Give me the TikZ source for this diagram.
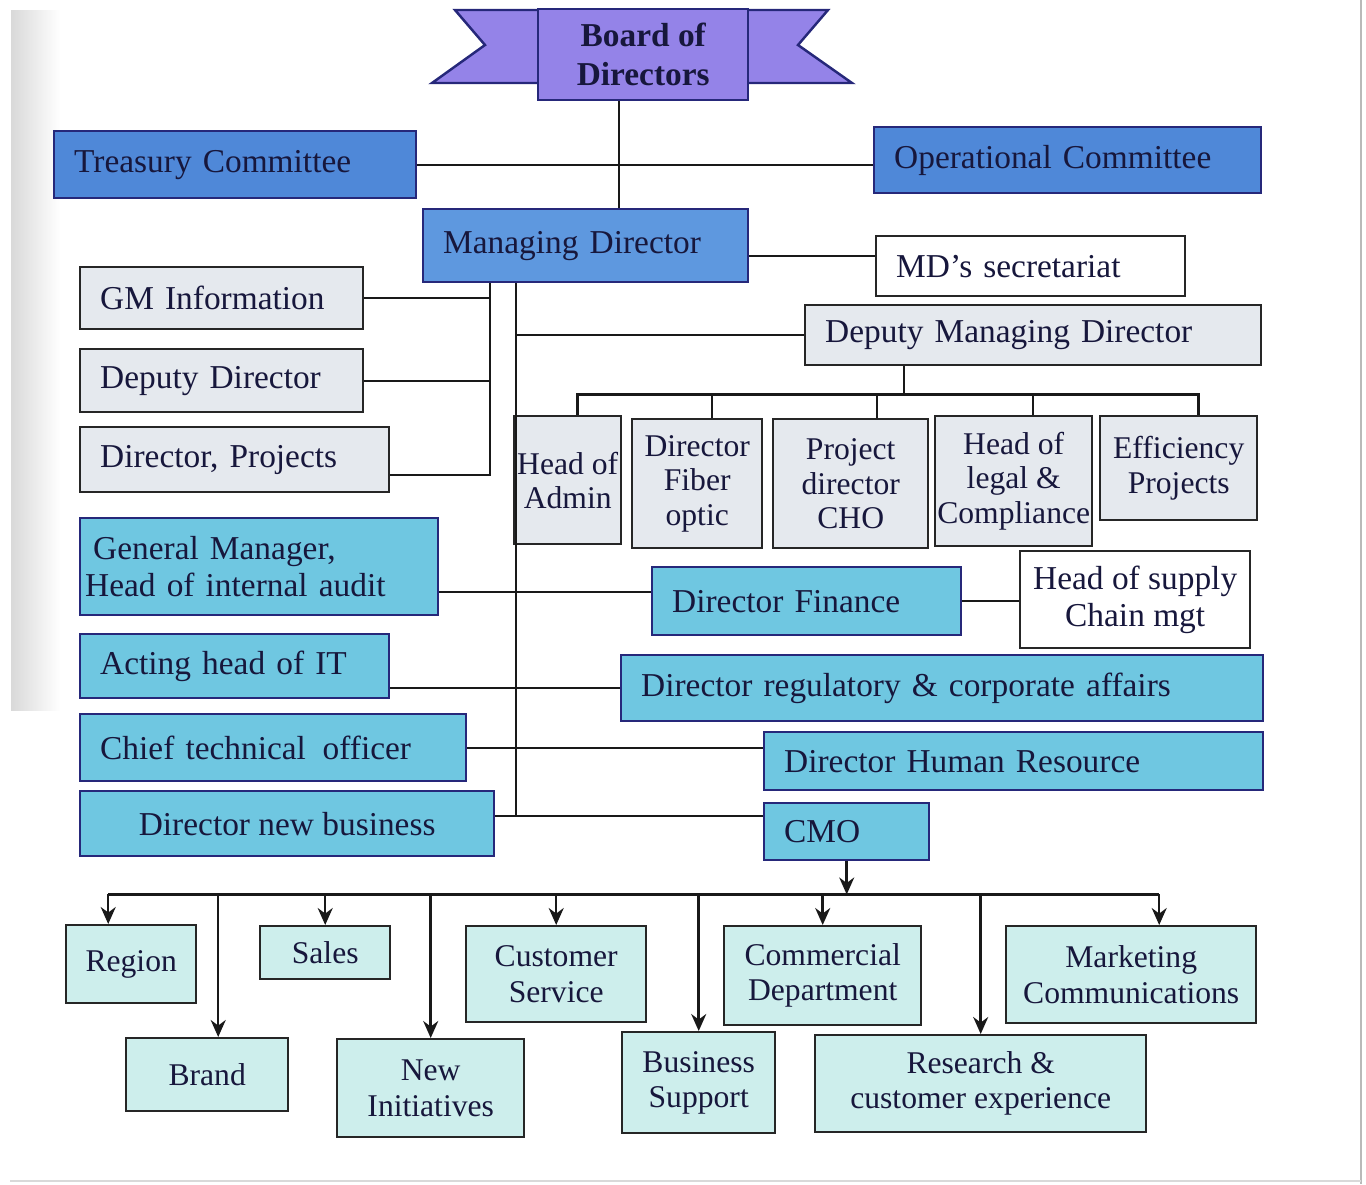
\documentclass[tikz,border=0pt]{standalone}
\usepackage{fontspec}
\setmainfont{Liberation Serif}
\usepackage{xcolor}
\usepackage{tikz}
\usetikzlibrary{arrows.meta}
\definecolor{orgPurple}{HTML}{9483E8}
\definecolor{orgNavy}{HTML}{26287A}
\definecolor{orgBlue}{HTML}{4F88D8}
\definecolor{orgMid}{HTML}{5E98DF}
\definecolor{orgCyan}{HTML}{6FC7E1}
\definecolor{orgGray}{HTML}{E5E9EE}
\definecolor{orgTeal}{HTML}{CDEEEC}
\definecolor{orgInk}{HTML}{17173C}

\begin{document}
\begin{tikzpicture}[
  x=0.02cm, y=-0.02cm,
  every node/.style={font=\fontsize{19}{21}\selectfont, text=orgInk},
  unit/.style={draw=black!85, line width=1.4pt, anchor=north west, inner ysep=0pt},
  lbox/.style={unit, inner xsep=0.4cm, align=left, text width=#1},
  topbox/.style={fill=orgBlue, draw=orgNavy},
  cyanbox/.style={fill=orgCyan, draw=orgNavy},
  kid/.style={unit, fill=orgGray, align=center, inner xsep=0pt,
              font=\fontsize{18}{19.5}\selectfont},
  dept/.style={unit, fill=orgTeal, align=center, inner xsep=0pt,
               font=\fontsize{18}{20}\selectfont},
  link/.style={line width=1.4pt, draw=black!90},
  arr/.style={link, -{Stealth[length=3.4mm, width=3mm]}},
]
\useasboundingbox (0,0) rectangle (1366,1184);

% scan edges
\shade[left color=gray!30, right color=white] (11,10) rectangle (60,710);
\draw[gray!55, line width=0.8pt] (1361,0) -- (1361,1184);
\draw[gray!30, line width=0.6pt] (10,1181) -- (1361,1181);

% Board ribbon
\filldraw[fill=orgPurple, draw=orgNavy, line width=1.4pt]
  (537,10) -- (455,10) -- (485,45) -- (432,83) -- (537,83);
\filldraw[fill=orgPurple, draw=orgNavy, line width=1.4pt]
  (747,10) -- (828,10) -- (798,45) -- (852,83) -- (747,83);
\node[unit, fill=orgPurple, draw=orgNavy, minimum width=4.2cm, minimum height=1.82cm,
      align=center, font=\fontsize{19}{22}\selectfont\bfseries] (board) at (537,8) {Board of\\Directors};

% Committees and MD
\node[lbox=6.44cm, topbox, minimum height=1.34cm] (treasury) at (53,130) {Treasury Committee};
\node[lbox=6.94cm, topbox, minimum height=1.32cm] (operational) at (873,126) {Operational Committee};
\node[lbox=5.7cm, fill=orgMid, draw=orgNavy, minimum height=1.46cm] (md) at (422,208) {Managing Director};
\node[lbox=5.38cm, fill=white, minimum height=1.2cm] (mdsec) at (875,235) {MD’s secretariat};
\node[lbox=8.32cm, fill=orgGray, minimum height=1.2cm] (dmd) at (804,304) {Deputy Managing Director};

% Left staff
\node[lbox=4.86cm, fill=orgGray, minimum height=1.24cm] (gminfo) at (79,266) {GM Information};
\node[lbox=4.86cm, fill=orgGray, minimum height=1.26cm] (depdir) at (79,348) {Deputy Director};
\node[lbox=5.38cm, fill=orgGray, minimum height=1.3cm] (dirproj) at (79,426) {Director, Projects};

% Under deputy MD
\node[kid, minimum width=2.14cm, minimum height=2.56cm] (admin) at (513,415) {Head of\\Admin};
\node[kid, minimum width=2.6cm, minimum height=2.58cm] (fiber) at (631,418) {Director\\Fiber\\optic};
\node[kid, minimum width=3.1cm, minimum height=2.58cm] (cho) at (772,418) {Project\\director\\CHO};
\node[kid, minimum width=3.14cm, minimum height=2.6cm] (legal) at (934,415) {Head of\\legal \&\\Compliance};
\node[kid, minimum width=3.14cm, minimum height=2.08cm] (effic) at (1099,415) {Efficiency\\Projects};

% Directors
\node[lbox=6.96cm, cyanbox, inner xsep=0.1cm, minimum height=1.94cm] (gmaudit) at (79,517)
  {\hspace{0.16cm}General Manager,\\Head of internal audit};
\node[lbox=5.38cm, cyanbox, minimum height=1.36cm] (dfin) at (651,566) {Director Finance};
\node[unit, fill=white, align=center, minimum width=4.6cm, minimum height=1.94cm] (supply) at (1019,550)
  {Head of supply\\Chain mgt};
\node[lbox=5.38cm, cyanbox, minimum height=1.28cm] (itact) at (79,633) {Acting head of IT};
\node[lbox=12.04cm, cyanbox, minimum height=1.32cm] (dreg) at (620,654) {Director regulatory \& corporate affairs};
\node[lbox=6.92cm, cyanbox, minimum height=1.34cm] (cto) at (79,713) {Chief technical\, officer};
\node[lbox=9.18cm, cyanbox, minimum height=1.16cm] (dhr) at (763,731) {Director Human Resource};
\node[unit, cyanbox, align=center, minimum width=8.28cm, minimum height=1.3cm] (dnb) at (79,790) {Director new business};
\node[lbox=2.5cm, cyanbox, minimum height=1.14cm] (cmo) at (763,802) {CMO};

% Marketing departments
\node[dept, minimum width=2.6cm, minimum height=1.56cm] (region) at (65,924) {Region};
\node[dept, minimum width=2.6cm, minimum height=1.06cm] (sales) at (259,925) {Sales};
\node[dept, minimum width=3.6cm, minimum height=1.92cm] (custserv) at (465,925) {Customer\\Service};
\node[dept, minimum width=3.94cm, minimum height=1.98cm] (commercial) at (723,925) {Commercial\\Department};
\node[dept, minimum width=5cm, minimum height=1.94cm] (marcom) at (1005,925) {Marketing\\Communications};
\node[dept, minimum width=3.24cm, minimum height=1.46cm] (brand) at (125,1037) {Brand};
\node[dept, minimum width=3.74cm, minimum height=1.96cm] (newinit) at (336,1038) {New\\Initiatives};
\node[dept, minimum width=3.06cm, minimum height=2.02cm] (bizsup) at (621,1031) {Business\\Support};
\node[dept, minimum width=6.62cm, minimum height=1.94cm] (research) at (814,1034) {Research \&\\customer experience};

% Lines from the board
\draw[link] (board.south) ++(-24,0) coordinate (spine) -- (spine |- md.north);
\draw[link] (treasury.east) -- (treasury.east -| operational.west);
\draw[link] (md.east) ++(0,10) coordinate (mdr) -- (mdr -| mdsec.west);

% Staff bus
\draw[link] (md.south west) ++(68,0) coordinate (lbus);
\draw[link] (gminfo.east) -- (gminfo.east -| lbus);
\draw[link] (depdir.east) -- (depdir.east -| lbus);
\draw[link] ([yshift=-0.3cm]dirproj.east) -| (lbus);

% Directors bus
\draw[link] (md.south west) ++(94,0) coordinate (rbus);
\draw[link] (rbus) -- (rbus |- dmd.west) -- (dmd.west);
\draw[link] ([yshift=0.15cm]dnb.east) -| (rbus);
\draw[link] ([yshift=0.15cm]dnb.east) -- ([yshift=0.15cm]dnb.east -| cmo.west);

% Deputy MD children
\draw[link] ([xshift=-2.58cm]dmd.south) -- ++(0,28) coordinate (dbar);
\draw[link] ([xshift=0.2cm]admin.north) |- (dbar) -| ([xshift=0.4cm]effic.north);
\draw[link] ([xshift=0.3cm]fiber.north) -- ([xshift=0.3cm]fiber.north |- dbar);
\draw[link] ([xshift=0.53cm]cho.north) -- ([xshift=0.53cm]cho.north |- dbar);
\draw[link] ([xshift=0.39cm]legal.north) -- ([xshift=0.39cm]legal.north |- dbar);

% Side links
\draw[link] ([yshift=0.18cm]dfin.west) -- ([yshift=0.18cm]dfin.west -| gmaudit.east);
\draw[link] (dfin.east) -- (dfin.east -| supply.west);
\draw[link] (dreg.west) -- (dreg.west -| itact.east);
\draw[link] (cto.east) -- (cto.east -| dhr.west);

% CMO departments
\draw[arr] (cmo.south) -- ++(0,33) coordinate (cbus);
\draw[link] ([xshift=-0.46cm]region.north |- cbus) -- ([xshift=0.56cm]marcom.north |- cbus);
\draw[arr] ([xshift=-0.46cm]region.north |- cbus) -- ([xshift=-0.46cm]region.north);
\draw[arr] ([xshift=0.22cm]brand.north |- cbus) -- ([xshift=0.22cm]brand.north);
\draw[arr] (sales.north |- cbus) -- (sales.north);
\draw[arr] (newinit.north |- cbus) -- (newinit.north);
\draw[arr] (custserv.north |- cbus) -- (custserv.north);
\draw[arr] (bizsup.north |- cbus) -- (bizsup.north);
\draw[arr] (commercial.north |- cbus) -- (commercial.north);
\draw[arr] (research.north |- cbus) -- (research.north);
\draw[arr] ([xshift=0.56cm]marcom.north |- cbus) -- ([xshift=0.56cm]marcom.north);

\end{tikzpicture}
\end{document}
